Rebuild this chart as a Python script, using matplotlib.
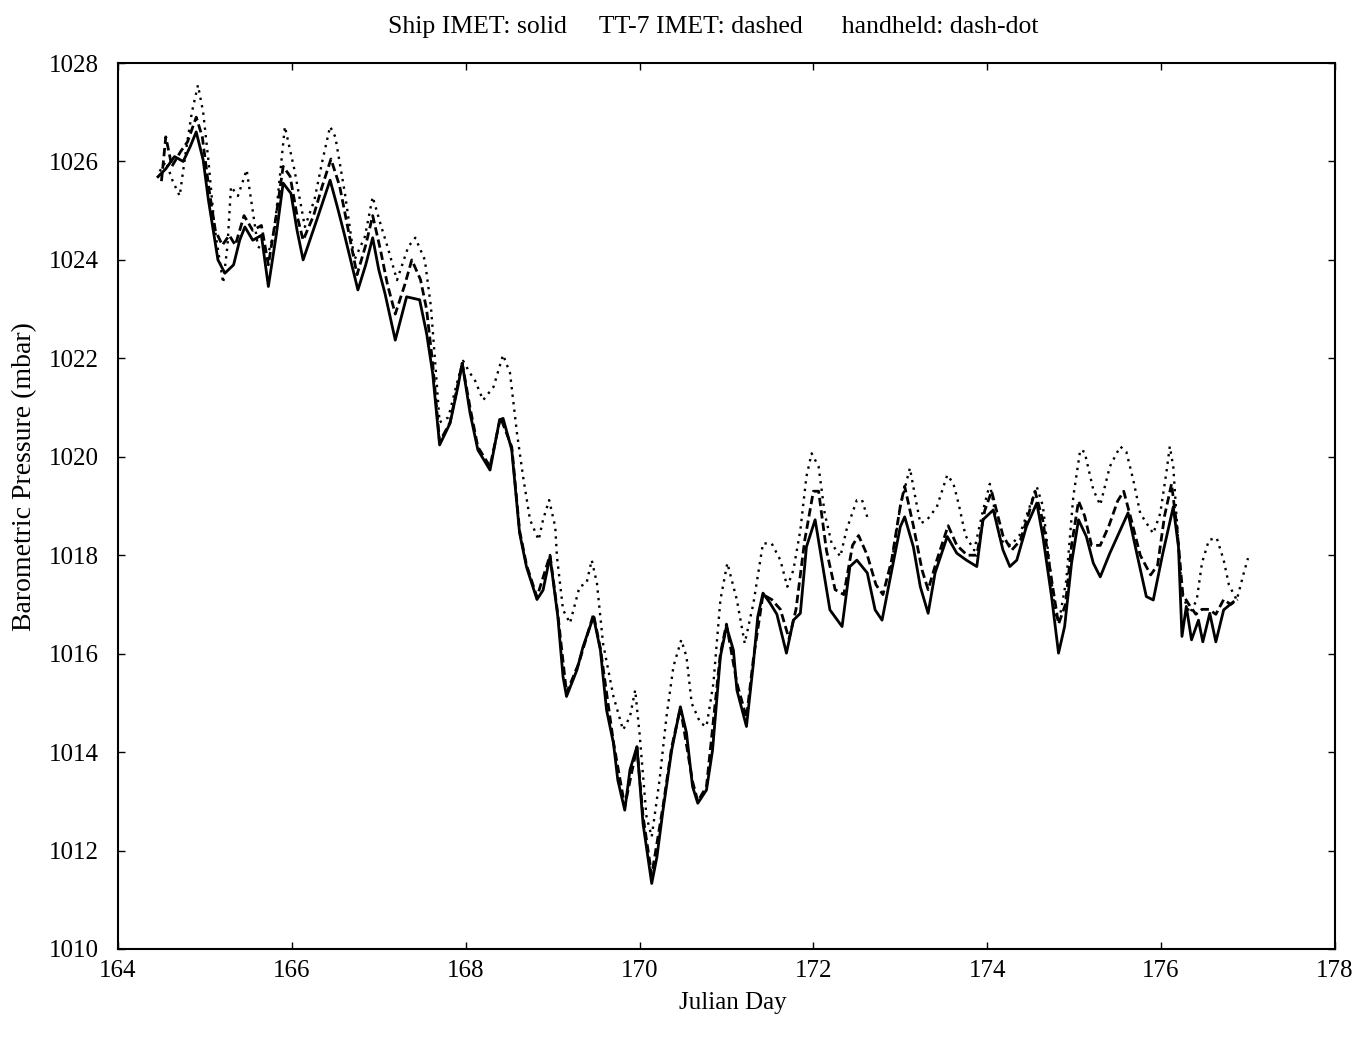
"""
Barometric pressure from three sensors (ship IMET, TT-7 IMET, handheld)
plotted against Julian day.
"""

import numpy as np
import matplotlib
import matplotlib.pyplot as plt

matplotlib.use("Agg")

# Ship IMET (solid)
ship_day = [164.46, 164.55, 164.65, 164.75, 164.83, 164.90, 164.98, 165.04, 165.10, 165.15,
            165.23, 165.33, 165.40, 165.46, 165.55, 165.65, 165.73, 165.82, 165.90, 165.99,
            166.06, 166.13, 166.30, 166.44, 166.52, 166.60, 166.76, 166.85, 166.93, 167.00,
            167.07, 167.19, 167.32, 167.47, 167.55, 167.62, 167.70, 167.82, 167.91, 167.96,
            168.05, 168.14, 168.28, 168.39, 168.43, 168.53, 168.62, 168.70, 168.82, 168.89,
            168.97, 169.06, 169.12, 169.16, 169.28, 169.35, 169.47, 169.55, 169.62, 169.70,
            169.75, 169.83, 169.89, 169.97, 170.04, 170.14, 170.20, 170.27, 170.37, 170.47,
            170.54, 170.61, 170.67, 170.77, 170.84, 170.93, 171.00, 171.08, 171.12, 171.23,
            171.31, 171.36, 171.42, 171.50, 171.58, 171.69, 171.77, 171.85, 171.92, 172.02,
            172.09, 172.19, 172.33, 172.42, 172.50, 172.62, 172.71, 172.79, 172.88, 173.00,
            173.05, 173.15, 173.23, 173.32, 173.40, 173.54, 173.65, 173.76, 173.88, 173.95,
            174.07, 174.18, 174.26, 174.34, 174.45, 174.57, 174.64, 174.74, 174.82, 174.89,
            174.97, 175.05, 175.14, 175.22, 175.30, 175.41, 175.53, 175.62, 175.72, 175.83,
            175.91, 176.02, 176.14, 176.20, 176.24, 176.29, 176.35, 176.43, 176.48, 176.56,
            176.63, 176.72, 176.83]
ship_mbar = [1025.69, 1025.85, 1026.10, 1026.00, 1026.30, 1026.60, 1026.03, 1025.22, 1024.55, 1024.00,
             1023.73, 1023.90, 1024.40, 1024.67, 1024.40, 1024.50, 1023.46, 1024.50, 1025.56, 1025.35,
             1024.60, 1024.00, 1024.88, 1025.62, 1025.10, 1024.55, 1023.39, 1023.90, 1024.45, 1023.80,
             1023.33, 1022.37, 1023.25, 1023.19, 1022.51, 1021.70, 1020.24, 1020.68, 1021.42, 1021.90,
             1020.89, 1020.14, 1019.73, 1020.75, 1020.78, 1020.14, 1018.45, 1017.76, 1017.10, 1017.29,
             1017.97, 1016.75, 1015.53, 1015.13, 1015.67, 1016.14, 1016.75, 1016.07, 1014.86, 1014.18,
             1013.43, 1012.82, 1013.64, 1014.11, 1012.55, 1011.33, 1011.87, 1012.82, 1014.04, 1014.92,
             1014.39, 1013.30, 1012.96, 1013.23, 1014.04, 1015.94, 1016.55, 1016.07, 1015.26, 1014.52,
             1015.81, 1016.75, 1017.23, 1017.03, 1016.80, 1016.01, 1016.68, 1016.82, 1018.17, 1018.72,
             1017.97, 1016.89, 1016.55, 1017.77, 1017.90, 1017.64, 1016.89, 1016.68, 1017.50, 1018.58,
             1018.78, 1018.17, 1017.36, 1016.82, 1017.64, 1018.38, 1018.04, 1017.90, 1017.77, 1018.72,
             1018.92, 1018.11, 1017.77, 1017.90, 1018.58, 1019.06, 1018.38, 1017.16, 1016.01, 1016.55,
             1017.84, 1018.72, 1018.38, 1017.84, 1017.56, 1018.04, 1018.51, 1018.86, 1018.04, 1017.16,
             1017.09, 1018.04, 1018.98, 1018.17, 1016.35, 1016.96, 1016.28, 1016.68, 1016.24, 1016.82,
             1016.24, 1016.89, 1017.05]

# TT-7 IMET (dashed)
tt7_day = [164.50, 164.55, 164.62, 164.72, 164.80, 164.90, 164.97, 165.05, 165.12, 165.20,
           165.28, 165.35, 165.45, 165.55, 165.65, 165.73, 165.82, 165.90, 165.98, 166.06,
           166.13, 166.25, 166.35, 166.45, 166.55, 166.65, 166.75, 166.85, 166.93, 167.02,
           167.10, 167.19, 167.30, 167.38, 167.48, 167.55, 167.62, 167.70, 167.82, 167.96,
           168.05, 168.14, 168.28, 168.40, 168.53, 168.62, 168.70, 168.82, 168.97, 169.06,
           169.16, 169.30, 169.47, 169.55, 169.70, 169.83, 169.97, 170.04, 170.14, 170.27,
           170.37, 170.47, 170.61, 170.67, 170.77, 170.93, 171.00, 171.12, 171.23, 171.31,
           171.42, 171.52, 171.62, 171.72, 171.80, 171.90, 172.00, 172.06, 172.15, 172.25,
           172.35, 172.45, 172.52, 172.62, 172.72, 172.80, 172.90, 173.00, 173.05, 173.15,
           173.25, 173.32, 173.42, 173.55, 173.65, 173.77, 173.88, 173.97, 174.05, 174.18,
           174.28, 174.38, 174.47, 174.55, 174.64, 174.74, 174.82, 174.90, 174.97, 175.05,
           175.12, 175.20, 175.30, 175.40, 175.50, 175.57, 175.66, 175.76, 175.88, 175.96,
           176.04, 176.12, 176.18, 176.25, 176.32, 176.40, 176.47, 176.55, 176.63, 176.72,
           176.80, 176.88]
tt7_mbar = [1025.6, 1026.5, 1025.9, 1026.2, 1026.4, 1026.9, 1026.5, 1025.4, 1024.6, 1024.3,
            1024.5, 1024.3, 1024.9, 1024.6, 1024.7, 1023.9, 1024.9, 1025.9, 1025.7, 1024.9,
            1024.4, 1024.9, 1025.5, 1026.05, 1025.5, 1024.6, 1023.7, 1024.3, 1024.9, 1024.2,
            1023.5, 1022.9, 1023.5, 1024.0, 1023.6, 1023.0, 1021.9, 1020.3, 1020.7, 1021.9,
            1021.0, 1020.2, 1019.8, 1020.8, 1020.2, 1018.5, 1017.8, 1017.15, 1018.0, 1016.8,
            1015.2, 1015.8, 1016.8, 1016.1, 1014.2, 1012.9, 1014.1, 1012.7, 1011.5, 1012.9,
            1014.1, 1014.9, 1013.4, 1013.0, 1013.3, 1016.0, 1016.6, 1015.4, 1014.7, 1015.9,
            1017.2, 1017.1, 1016.9, 1016.3, 1016.9, 1018.3, 1019.3, 1019.3, 1018.1, 1017.3,
            1017.2, 1018.2, 1018.4, 1018.0, 1017.4, 1017.2, 1017.9, 1019.0, 1019.4, 1018.6,
            1017.7, 1017.3, 1017.9, 1018.6, 1018.2, 1018.0, 1018.0, 1018.9, 1019.3, 1018.4,
            1018.1, 1018.3, 1018.8, 1019.3, 1018.7, 1017.5, 1016.6, 1017.0, 1018.2, 1019.1,
            1018.8, 1018.2, 1018.2, 1018.6, 1019.1, 1019.3, 1018.7, 1018.0, 1017.6, 1017.8,
            1018.8, 1019.45, 1018.6, 1017.2, 1017.0, 1016.8, 1016.9, 1016.9, 1016.8, 1017.1,
            1017.0, 1017.1]

# handheld (dotted); nan marks the gap after day 172.6
hand_day = [164.48, 164.55, 164.63, 164.71, 164.78, 164.85, 164.92, 164.98, 165.04, 165.11,
            165.21, 165.26, 165.30, 165.38, 165.48, 165.55, 165.61, 165.73, 165.80, 165.92,
            166.03, 166.15, 166.26, 166.35, 166.44, 166.50, 166.61, 166.72, 166.84, 166.93,
            167.03, 167.10, 167.21, 167.34, 167.42, 167.53, 167.60, 167.65, 167.70, 167.80,
            167.90, 167.97, 168.05, 168.11, 168.20, 168.32, 168.43, 168.51, 168.59, 168.66,
            168.74, 168.84, 168.89, 168.96, 169.03, 169.05, 169.12, 169.20, 169.31, 169.39,
            169.45, 169.51, 169.58, 169.70, 169.81, 169.89, 169.95, 170.00, 170.08, 170.14,
            170.23, 170.31, 170.39, 170.48, 170.54, 170.60, 170.70, 170.77, 170.85, 170.93,
            171.01, 171.12, 171.21, 171.31, 171.42, 171.52, 171.62, 171.70, 171.77, 171.85,
            171.92, 171.98, 172.06, 172.13, 172.21, 172.31, 172.38, 172.50, 172.56, 172.63,
            172.70, 172.88, 173.00, 173.11, 173.17, 173.23, 173.30, 173.42, 173.54, 173.61,
            173.67, 173.75, 173.85, 173.95, 174.03, 174.15, 174.27, 174.37, 174.47, 174.57,
            174.64, 174.72, 174.79, 174.84, 174.91, 174.99, 175.07, 175.12, 175.22, 175.30,
            175.41, 175.53, 175.60, 175.68, 175.76, 175.91, 175.99, 176.06, 176.10, 176.14,
            176.18, 176.24, 176.33, 176.41, 176.47, 176.55, 176.64, 176.72, 176.78, 176.87,
            176.95, 177.00]
hand_mbar = [1025.8, 1026.0, 1025.6, 1025.3, 1026.2, 1027.0, 1027.55, 1027.0, 1026.03, 1024.67,
             1023.53, 1024.3, 1025.49, 1025.3, 1025.83, 1025.0, 1024.27, 1024.14, 1024.6, 1026.71,
             1025.83, 1024.67, 1025.22, 1026.0, 1026.71, 1026.5, 1025.36, 1024.00, 1024.47, 1025.28,
             1024.67, 1024.27, 1023.59, 1024.27, 1024.45, 1024.00, 1023.05, 1021.9, 1020.7, 1020.8,
             1021.5, 1021.95, 1021.7, 1021.54, 1021.15, 1021.42, 1022.07, 1021.70, 1020.48, 1019.60,
             1018.72, 1018.31, 1018.72, 1019.12, 1018.58, 1017.97, 1016.89, 1016.62, 1017.36, 1017.43,
             1017.90, 1017.43, 1016.21, 1015.13, 1014.45, 1014.72, 1015.26, 1014.38, 1012.69, 1012.28,
             1013.43, 1014.72, 1015.74, 1016.28, 1015.94, 1014.99, 1014.59, 1014.52, 1015.40, 1017.09,
             1017.84, 1017.09, 1016.21, 1017.02, 1018.24, 1018.24, 1017.90, 1017.36, 1017.70, 1018.51,
             1019.60, 1020.07, 1019.80, 1018.85, 1018.24, 1017.97, 1018.51, 1019.12, 1019.12, 1018.72,
             np.nan, 1017.6, 1019.0, 1019.77, 1019.2, 1018.65, 1018.7, 1018.98, 1019.63, 1019.46,
             1019.05, 1018.4, 1018.1, 1018.9, 1019.45, 1018.3, 1018.2, 1018.4, 1018.9, 1019.39,
             1019.0, 1017.77, 1016.68, 1016.8, 1017.50, 1019.19, 1020.14, 1020.1, 1019.33, 1019.02,
             1019.80, 1020.21, 1020.1, 1019.53, 1018.85, 1018.44, 1018.85, 1019.67, 1020.21, 1019.8,
             1018.72, 1017.22, 1016.82, 1017.09, 1017.84, 1018.31, 1018.35, 1017.90, 1017.4, 1017.09,
             1017.63, 1017.94]

x_ticks = [164, 166, 168, 170, 172, 174, 176, 178]
y_ticks = [1010, 1012, 1014, 1016, 1018, 1020, 1022, 1024, 1026, 1028]

plt.rcParams["font.family"] = ["Liberation Serif", "DejaVu Serif"]

fig = plt.figure(figsize=(13.64, 10.42), dpi=100)
ax = fig.add_axes([0.0865, 0.0893, 0.8922, 0.8502])

ax.plot(ship_day, ship_mbar, color="black", linewidth=2.0, linestyle="-")
ax.plot(tt7_day, tt7_mbar, color="black", linewidth=2.0, linestyle=(0, (3, 1.5)))
ax.plot(hand_day, hand_mbar, color="black", linewidth=1.7, linestyle=(0, (1, 2.2)))

ax.set_xlim(164, 178)
ax.set_ylim(1010, 1028)
ax.set_xticks(x_ticks)
ax.set_yticks(y_ticks)
ax.tick_params(direction="in", length=5, width=1, top=True, right=True,
               labelsize=18)
ax.tick_params(axis="x", pad=8)
ax.tick_params(axis="y", pad=14)
for spine in ax.spines.values():
    spine.set_linewidth(1.5)

ax.set_xlabel("Julian Day", fontsize=18)
ax.xaxis.set_label_coords(0.505, -0.049)
ax.set_ylabel("Barometric Pressure (mbar)", fontsize=20)
ax.yaxis.set_label_coords(-0.0665, 0.533)
fig.text(0.523, 0.974,
         "Ship IMET: solid     TT-7 IMET: dashed      handheld: dash-dot",
         ha="center", va="center", fontsize=18.5)

fig.savefig("out.png", dpi=100)
